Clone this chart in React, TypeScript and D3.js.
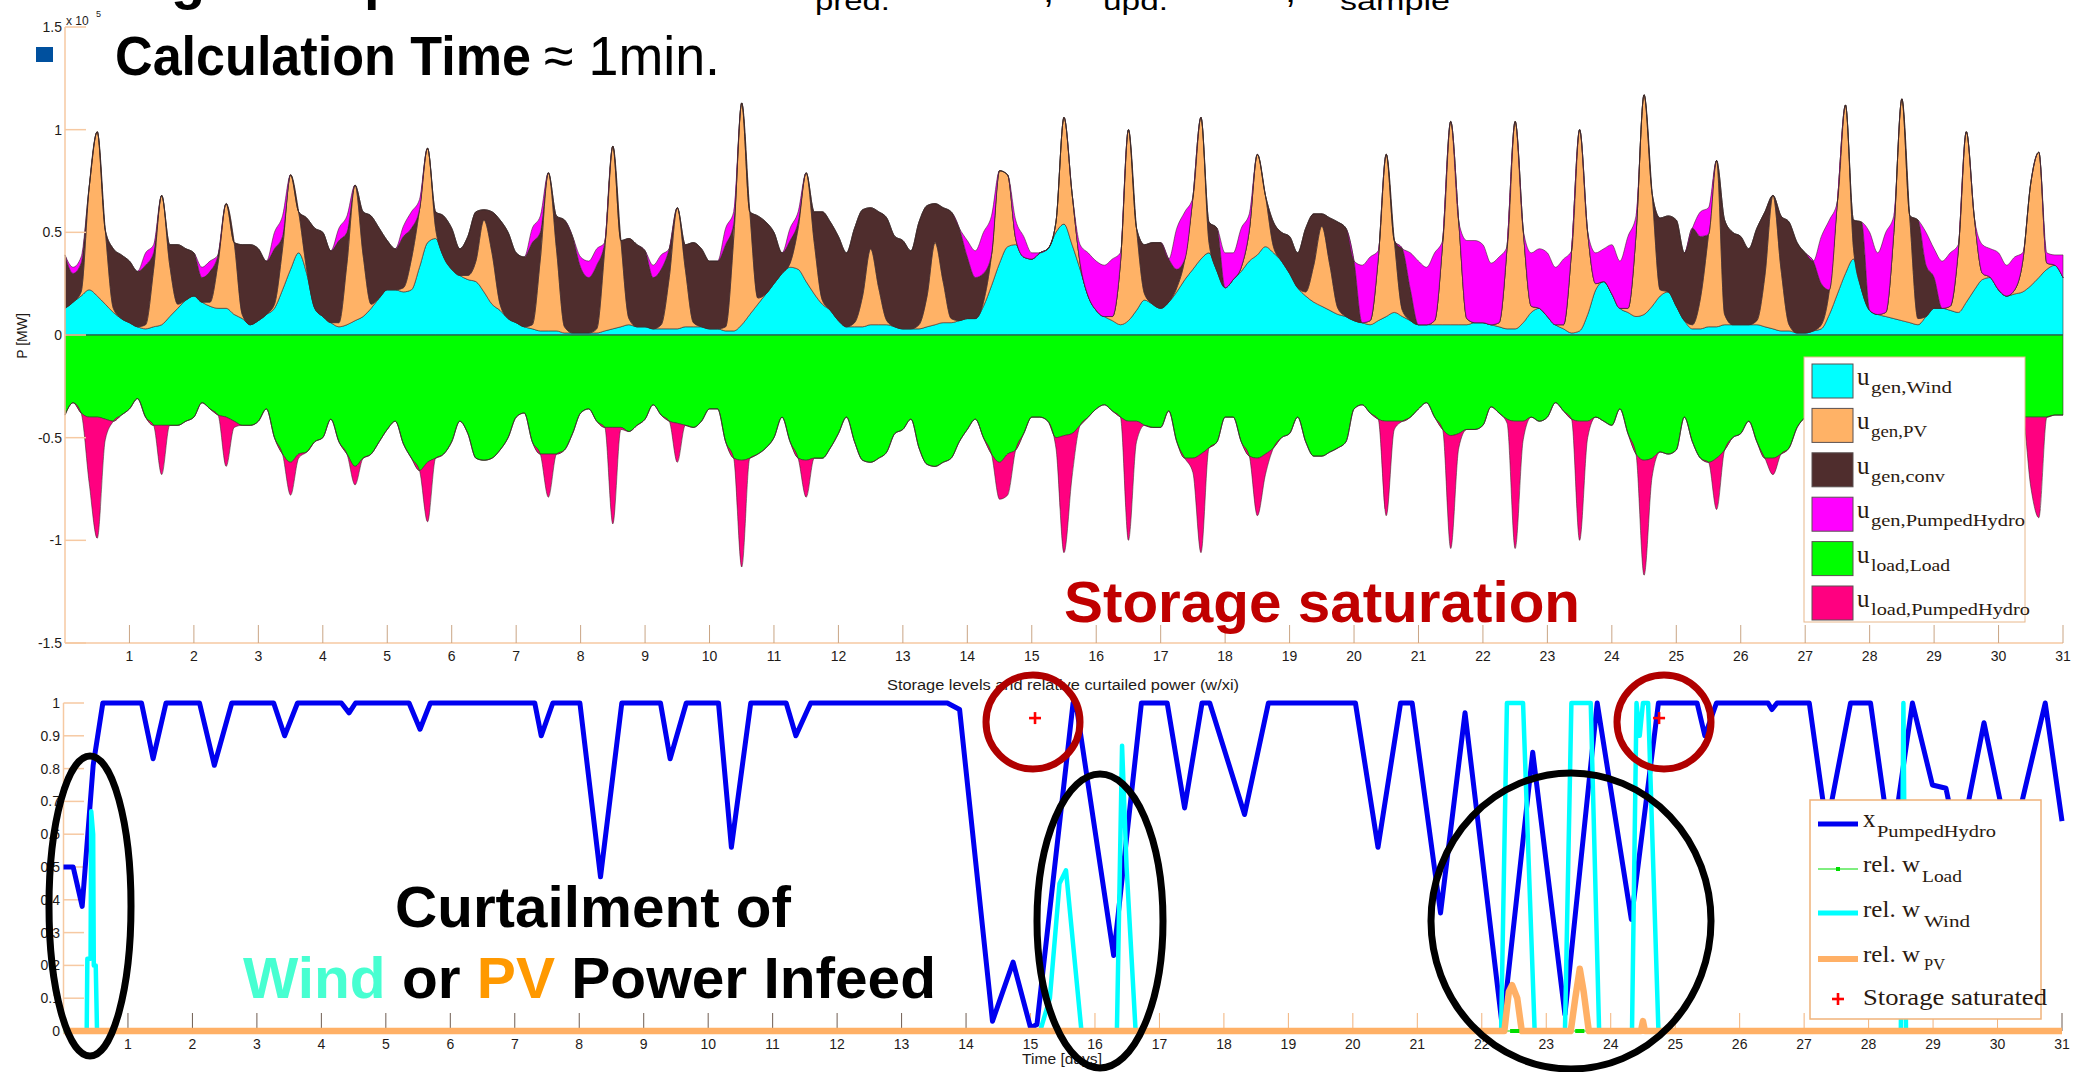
import React from 'react';
import * as d3 from 'd3';

// ---------- time base: 3-hour samples over 31 days ----------
const STEPS_PER_DAY = 8;
const DAY_TICKS = d3.range(1, 32);
const P_TICKS = [-1.5, -1, -0.5, 0, 0.5, 1, 1.5];
const X_TICKS = [0, 0.1, 0.2, 0.3, 0.4, 0.5, 0.6, 0.7, 0.8, 0.9, 1];

// ---------- power balance (x 1e5 MW), one row per day: 0h 3h 6h 9h 12h 15h 18h 21h ----------
const WIND = [
  .13,.16,.19,.22,.19,.15,.11,.08, .06,.04,.03,.04,.05,.09,.13,.17, .19,.16,.14,.13,.13,.10,.08,.05,
  .07,.10,.13,.22,.32,.40,.30,.13, .09,.06,.04,.05,.07,.09,.13,.18, .22,.22,.21,.22,.33,.45,.47,.38,
  .32,.29,.27,.26,.21,.15,.12,.08, .06,.04,.03,.02,.02,.02,.01,.01, .01,.01,.01,.02,.03,.04,.05,.04,
  .04,.03,.03,.03,.03,.04,.04,.04, .03,.03,.02,.02,.05,.10,.15,.20, .25,.30,.33,.32,.26,.20,.15,.12,
  .07,.04,.04,.04,.05,.05,.05,.04, .03,.03,.03,.04,.05,.06,.06,.07, .08,.08,.14,.24,.35,.43,.44,.38,
  .37,.40,.42,.50,.54,.44,.32,.19, .12,.09,.07,.05,.07,.12,.17,.15, .13,.16,.21,.27,.32,.37,.40,.31,
  .23,.27,.31,.36,.39,.43,.40,.36, .30,.23,.19,.16,.14,.12,.10,.09, .07,.06,.05,.07,.09,.11,.09,.07,
  .05,.05,.05,.05,.05,.05,.05,.06, .06,.05,.04,.03,.03,.06,.11,.13, .09,.05,.03,.01,.02,.10,.22,.26,
  .20,.13,.11,.09,.10,.14,.19,.21, .14,.07,.03,.03,.04,.04,.05,.05, .05,.05,.05,.04,.03,.02,.02,.01,
  .01,.02,.03,.10,.20,.30,.37,.22, .12,.10,.09,.08,.07,.06,.05,.09, .13,.13,.12,.11,.16,.22,.27,.28,
  .22,.19,.20,.21,.24,.28,.32,.34, .28,
];
const PV = [
  0,0,.02,.50,.80,.36,.02,0, 0,0,.02,.28,.63,.25,.02,0, 0,0,.02,.22,.51,.35,.02,0,
  0,0,.02,.20,.46,.20,.02,0, 0,0,.02,.30,.66,.30,.02,0, 0,0,.02,.15,.28,.46,.05,0,
  0,0,.02,.10,.35,.25,.03,0, 0,0,.02,.35,.77,.40,.03,0, 0,0,.02,.40,.89,.42,.03,0,
  0,0,.02,.25,.59,.28,.02,0, 0,0,.02,.45,1.08,.50,.03,0, 0,0,.02,.20,.53,.25,.02,0,
  0,0,.02,.15,.37,.18,.02,0, 0,0,.02,.15,.40,.20,.02,0, 0,0,.02,.15,.45,.35,.03,0,
  0,0,0,.05,.52,.25,.03,0, 0,0,.02,.30,.93,.40,.03,0, 0,0,.02,.10,.35,.69,.05,0,
  0,0,.02,.15,.49,.25,.03,0, 0,0,.02,.18,.39,.22,.03,0, 0,0,.02,.30,.79,.35,.03,0,
  0,0,.02,.40,.99,.50,.03,0, 0,0,.02,.40,1.01,.45,.03,0, 0,0,.02,.40,.98,.40,.03,0,
  0,0,.02,.40,1.07,.55,.03,0, 0,0,.02,.15,.45,.81,.05,0, 0,0,.02,.25,.65,.30,.03,0,
  0,0,.02,.12,.45,.82,.05,0, 0,0,.02,.42,1.08,.50,.03,0, 0,0,.02,.30,.83,.35,.03,0,
  0,0,.02,.15,.50,.61,.03,0, 0,
];
const CONV = [
  .26,.14,.14,0,0,0,.29,.31, .30,.27,.29,.08,0,.10,.29,.25, .21,.12,.15,.04,0,0,.34,.39,
  .35,.26,.27,.06,0,0,.25,.39, .41,.35,.40,.15,0,.21,.43,.34, .24,.20,.25,.15,0,0,.08,.20,
  .20,.13,.19,.24,.05,.20,.41,.42, .34,.34,.40,.13,0,.16,.52,.47, .32,.27,.31,.03,0,0,.39,.40,
  .37,.25,.27,.14,0,.12,.39,.38, .33,.33,.40,.07,0,0,.40,.35, .25,.10,.11,.03,0,.15,.43,.43,
  .41,.36,.46,.42,.20,.37,.50,.44, .43,.38,.50,.44,.19,.36,.52,.45, .30,.20,.14,0,0,0,0,0,
  0,0,0,0,0,0,0,0, 0,0,0,0,0,0,.24,.30, .32,.21,.09,0,0,0,.10,.21,
  0,0,0,0,0,0,.12,.14, .18,.17,.31,.25,.06,.23,.42,.43, .29,0,0,0,0,0,.30,.15,
  0,0,0,0,0,0,0,0, 0,0,0,0,0,0,0,0, 0,0,0,0,0,0,0,0,
  0,0,0,0,0,0,.35,.37, .42,.33,.47,.30,0,0,.46,.45, .43,.37,.45,.31,0,.26,.50,.44,
  .39,.34,.20,0,0,0,.14,.33, 0,0,0,0,0,.02,.48,.25, .15,0,0,0,0,0,0,0,
  0,0,0,0,0,0,0,0, 0,
];
const HYDRO_GEN = [
  0,.03,.03,0,0,0,0,0, 0,0,.06,.04,0,0,0,0, 0,.05,.05,0,0,0,0,0,
  0,0,.08,.10,0,0,0,0, 0,0,.06,.08,0,0,0,0, 0,0,.05,.08,.05,0,0,0,
  0,0,0,0,0,0,0,0, 0,0,.07,.08,0,0,0,0, .05,.08,.08,0,0,0,0,0,
  0,.06,.07,0,0,0,0,0, 0,0,.08,.06,0,0,0,0, 0,0,.06,.05,0,0,0,0,
  0,0,0,0,0,0,0,0, 0,0,0,0,0,0,0,0, .08,.13,.20,.19,0,0,.09,.10,
  .03,0,0,0,0,0,.09,.21, .24,.25,.28,.05,0,0,0,0, 0,0,.20,.23,0,0,0,0,
  .17,.13,.19,.08,0,0,0,0, 0,0,0,0,0,0,0,0, 0,.28,.31,.04,0,0,0,.18,
  .31,.28,.33,.01,0,0,.38,.40, .38,.30,.32,0,0,0,.26,.29, .31,.28,.32,0,0,0,.15,.16,
  .24,.23,.35,.09,0,0,0,0, 0,0,0,.12,.13,0,0,0, 0,0,0,0,0,0,0,0,
  0,0,.23,.34,0,0,0,0, .38,.30,.39,.08,0,0,0,.16, .14,.23,.26,.03,0,0,.14,.14,
  .18,.15,.16,.04,0,0,.05,.05, .11,
];
const LOAD = [
  .39,.33,.38,.40,.40,.41,.42,.39, .36,.31,.40,.44,.44,.44,.44,.42, .40,.33,.36,.39,.40,.42,.44,.44,
  .42,.36,.50,.58,.62,.58,.57,.52, .50,.41,.52,.58,.64,.60,.58,.52, .46,.42,.53,.60,.66,.62,.60,.58,
  .52,.42,.48,.60,.61,.60,.56,.50, .40,.38,.52,.58,.58,.58,.56,.48, .38,.36,.42,.45,.45,.45,.47,.44,
  .41,.34,.39,.42,.43,.44,.45,.42, .36,.36,.52,.60,.61,.60,.58,.55, .50,.40,.52,.60,.61,.60,.60,.55,
  .48,.40,.52,.61,.62,.60,.57,.48, .46,.41,.55,.63,.64,.62,.60,.52, .46,.41,.50,.58,.62,.58,.56,.48,
  .40,.40,.42,.50,.49,.48,.44,.40, .36,.34,.37,.40,.42,.42,.44,.45, .45,.37,.52,.60,.60,.58,.55,.52,
  .40,.40,.52,.59,.60,.58,.55,.50, .48,.40,.52,.59,.59,.57,.55,.52, .36,.34,.38,.41,.42,.42,.42,.40,
  .36,.33,.40,.46,.49,.48,.46,.46, .44,.35,.38,.41,.42,.42,.40,.42, .40,.33,.37,.41,.42,.42,.40,.42,
  .44,.36,.48,.58,.61,.60,.57,.58, .56,.40,.52,.60,.62,.60,.56,.50, .48,.42,.52,.60,.60,.58,.55,.45,
  .40,.36,.48,.56,.60,.58,.56,.55, .50,.40,.50,.58,.60,.58,.56,.50, .42,.36,.40,.44,.45,.44,.44,.42,
  .40,.34,.38,.40,.40,.40,.40,.39, .39,
];
const HYDRO_LOAD = [
  0,0,0,.32,.59,.10,0,0, 0,0,0,0,.24,0,0,0, 0,0,0,0,.24,.03,0,0,
  0,0,0,0,.16,.02,0,0, 0,0,0,0,.09,0,0,0, 0,0,0,0,0,.29,0,0,
  0,0,0,0,0,0,0,0, 0,0,0,0,.21,0,0,0, 0,0,0,0,.47,.01,0,0,
  0,0,0,0,.19,0,0,0, 0,0,0,0,.52,0,0,0, 0,0,0,0,.18,0,0,0,
  0,0,0,0,0,0,0,0, 0,0,0,0,0,0,0,0, 0,0,0,0,.18,.20,0,0,
  0,0,0,.05,.57,.21,0,0, 0,0,0,0,.58,.10,0,0, 0,0,0,0,.07,.48,0,0,
  0,0,0,0,.28,.10,0,0, 0,0,0,0,0,0,0,0, 0,0,0,0,.46,.04,0,0,
  0,0,0,0,.55,.07,0,0, 0,0,0,.02,.62,.09,0,0, 0,0,0,0,.58,.08,0,0,
  0,0,0,0,.56,.09,0,0, 0,0,0,0,0,.25,0,0, 0,0,0,0,.08,0,0,0,
  0,0,0,0,.05,.54,0,0, 0,0,0,0,.55,0,0,0, 0,0,0,0,.54,.13,0,0,
  0,0,0,0,.34,.49,0,0, 0,
];

// ---------- storage level and relative curtailment ----------
const STORAGE_T = [0,0.15,0.29,0.46,0.61,1.21,1.39,1.59,2.11,2.34,2.61,3.26,3.43,3.63,4.31,4.43,4.53,5.36,5.53,5.69,7.31,7.41,7.59,8.01,8.33,8.66,9.26,9.41,9.66,10.16,10.36,10.66,11.21,11.36,11.59,13.71,13.9,14.41,14.73,15.0,15.1,15.66,15.72,16.29,16.72,17.12,17.39,17.66,17.78,18.32,18.69,20.04,20.39,20.74,20.92,21.36,21.74,22.32,22.79,23.29,23.79,24.32,24.74,25.34,25.46,25.64,26.44,26.5,26.58,27.08,27.35,27.72,28.03,28.35,28.68,28.99,29.2,29.4,29.79,30.2,30.74,31.0];
const STORAGE_X = [0.50,0.50,0.38,0.81,1.0,1.0,0.83,1.0,1.0,0.81,1.0,1.0,0.90,1.0,1.0,0.97,1.0,1.0,0.92,1.0,1.0,0.90,1.0,1.0,0.47,1.0,1.0,0.83,1.0,1.0,0.56,1.0,1.0,0.90,1.0,1.0,0.98,0.03,0.21,0.01,0.02,1.0,0.98,0.23,1.0,1.0,0.68,1.0,1.0,0.66,1.0,1.0,0.56,1.0,1.0,0.36,0.97,0.01,0.85,0.05,1.0,0.34,1.0,1.0,0.90,1.0,1.0,0.98,1.0,1.0,0.62,1.0,1.0,0.55,1.0,0.75,0.74,0.55,0.94,0.55,1.0,0.64];
const WIND_CURT_T = [0,0.36,0.37,0.42,0.43,0.46,0.47,0.50,0.52,15.15,15.3,15.45,15.55,15.79,16.34,16.42,16.49,16.63,22.30,22.39,22.64,22.82,23.29,23.39,23.69,23.82,24.33,24.40,24.45,24.50,24.58,24.74,28.50,28.54,28.58,31];
const WIND_CURT = [0,0,0.22,0.22,0.67,0.60,0.20,0.20,0,0,0.10,0.45,0.49,0,0,0.87,0.50,0,0,1.0,1.0,0,0,1.0,1.0,0,0,1.0,0.9,1.0,1.0,0,0,1.0,0,0];
const PV_CURT_T = [0,22.35,22.42,22.47,22.55,22.62,23.38,23.45,23.52,23.58,23.66,24.47,24.50,24.53,31];
const PV_CURT = [0,0,0.12,0.14,0.10,0,0,0.10,0.19,0.12,0,0,0.03,0,0];
const LOAD_CURT_T = [0, 31];
const LOAD_CURT = [0, 0];
const LOAD_CURT_MARK_T = [22.47, 22.51, 22.55, 23.48, 23.52, 23.56];
const SAT_T = [15.07, 24.75];
const SAT_X = [0.954, 0.954];

const TOP_LEGEND = [
  { sub: 'gen,Wind', color: '#00FFFF', w: 81 },
  { sub: 'gen,PV', color: '#FFB266', w: 56 },
  { sub: 'gen,conv', color: '#4F2D2D', w: 74 },
  { sub: 'gen,PumpedHydro', color: '#FF00FF', w: 154 },
  { sub: 'load,Load', color: '#00FF00', w: 79 },
  { sub: 'load,PumpedHydro', color: '#FF0080', w: 159 },
];

const SANS = '"Liberation Sans", Arial, Helvetica, sans-serif';
const SERIF = '"Liberation Serif", "DejaVu Serif", "Times New Roman", serif';
const AXIS = '#F6C9A2';
const TXT = '#1e1a18';
const LEG_TXT = '#2a1a10';

export default function App() {
  const W = 2085, H = 1072;
  const xTop = d3.scaleLinear().domain([0, 31]).range([65, 2063]);
  const yTop = d3.scaleLinear().domain([-1.5, 1.5]).range([643, 27]);
  const xBot = d3.scaleLinear().domain([0, 31]).range([63.5, 2062]);
  const yBot = d3.scaleLinear().domain([0, 1]).range([1031, 703]);

  const rows = WIND.map((w, i) => ({
    t: i / STEPS_PER_DAY,
    wind: w, pv: PV[i], conv: CONV[i], hgen: HYDRO_GEN[i],
    load: LOAD[i], hload: HYDRO_LOAD[i],
  }));
  const pos = d3.stack().keys(['wind', 'pv', 'conv', 'hgen'])(rows);
  const posColors = ['#00FFFF', '#FFB266', '#4F2D2D', '#FF00FF'];
  const curve = d3.curveMonotoneX;
  const areaGen = d3.area()
    .curve(curve)
    .x((d: any) => xTop(d.data.t))
    .y0((d: any) => yTop(d[0]))
    .y1((d: any) => yTop(d[1]));
  const loadArea = d3.area()
    .curve(curve)
    .x((d: any) => xTop(d.t))
    .y0(() => yTop(0))
    .y1((d: any) => yTop(-d.load));
  const hloadArea = d3.area()
    .curve(curve)
    .x((d: any) => xTop(d.t))
    .y0((d: any) => yTop(-d.load))
    .y1((d: any) => yTop(-(d.load + d.hload)));

  const line = d3.line()
    .x((d: any) => xBot(d[0]))
    .y((d: any) => yBot(d[1]));
  const storagePts = STORAGE_T.map((t, i) => [t, STORAGE_X[i]]);
  const windPts = WIND_CURT_T.map((t, i) => [t, WIND_CURT[i]]);
  const pvPts = PV_CURT_T.map((t, i) => [t, PV_CURT[i]]);
  const loadPts = LOAD_CURT_T.map((t, i) => [t, LOAD_CURT[i]]);

  const plus = (cx: number, cy: number, s: number, key: any) => (
    <g key={key} stroke="#FF0000" strokeWidth={2.6}>
      <line x1={cx - s} x2={cx + s} y1={cy} y2={cy} />
      <line x1={cx} x2={cx} y1={cy - s} y2={cy + s} />
    </g>
  );

  const edge = '#3a2525';

  return (
    <svg width={W} height={H} viewBox={`0 0 ${W} ${H}`}
      style={{ position: 'absolute', left: 0, top: 0, background: '#fff', overflow: 'hidden' }}
      fontFamily={SANS}>
      <rect x={0} y={0} width={W} height={H} fill="#fff" />

      {/* ---------- slide header (partly cut by the top edge, as in the reference) ---------- */}
      <text x={115} y={-2} fontSize={56} fontWeight="bold" fill="#000">Big example:</text>
      <text x={815} y={10} fontSize={26} fill="#000" textLength={75} lengthAdjust="spacingAndGlyphs">pred.</text>
      <text x={1043} y={2} fontSize={40} fill="#000">,</text>
      <text x={1103} y={10} fontSize={26} fill="#000" textLength={65} lengthAdjust="spacingAndGlyphs">upd.</text>
      <text x={1285} y={2} fontSize={40} fill="#000">,</text>
      <text x={1340} y={10} fontSize={26} fill="#000" textLength={110} lengthAdjust="spacingAndGlyphs">sample</text>

      {/* ---------- top plot ---------- */}
      <g>
        {pos.map((s: any, k: number) => (
          <path key={k} d={areaGen(s) as string} fill={posColors[k]} stroke={edge} strokeWidth={0.7} strokeOpacity={0.8} />
        ))}
        <path d={loadArea(rows as any) as string} fill="#00FF00" stroke={edge} strokeWidth={0.7} strokeOpacity={0.8} />
        <path d={hloadArea(rows as any) as string} fill="#FF0080" stroke={edge} strokeWidth={0.7} strokeOpacity={0.8} />
        <line x1={xTop(0)} x2={xTop(31)} y1={yTop(0)} y2={yTop(0)} stroke="#2f5f55" strokeWidth={1.2} />
      </g>
      {/* axes */}
      <line x1={65} x2={65} y1={yTop(1.5)} y2={yTop(-1.5)} stroke={AXIS} strokeWidth={1.5} />
      <line x1={65} x2={xTop(31)} y1={yTop(-1.5)} y2={yTop(-1.5)} stroke={AXIS} strokeWidth={1.5} />
      {P_TICKS.map((v) => (
        <g key={v}>
          <line x1={65} x2={86} y1={yTop(v)} y2={yTop(v)} stroke={AXIS} strokeWidth={1.5} />
          <text x={62} y={yTop(v) + 5} fontSize={14} textAnchor="end" fill={TXT}>{String(v)}</text>
        </g>
      ))}
      {DAY_TICKS.map((d) => (
        <g key={d}>
          <line x1={xTop(d)} x2={xTop(d)} y1={643} y2={625} stroke="#C9A585" strokeWidth={1} />
          <text x={xTop(d)} y={661} fontSize={14} textAnchor="middle" fill={TXT}>{d}</text>
        </g>
      ))}
      <text x={66} y={25} fontSize={12} fill={TXT}>x 10</text>
      <text x={96} y={17} fontSize={9} fill={TXT}>5</text>
      <text x={27} y={336} fontSize={14} textAnchor="middle" fill={TXT} transform="rotate(-90, 27, 336)">P [MW]</text>

      {/* top legend */}
      <rect x={1804} y={357} width={221} height={265} fill="#fff" stroke="#E8B88C" strokeWidth={1} />
      {TOP_LEGEND.map((e, i) => {
        const y = 364 + i * 44.4;
        return (
          <g key={e.sub}>
            <rect x={1812} y={y} width={41} height={34} fill={e.color} stroke="#5a5050" strokeWidth={1} />
            <text x={1857} y={y + 21} fontSize={25} fontFamily={SERIF} fill={LEG_TXT}>u</text>
            <text x={1871} y={y + 29} fontSize={17} fontFamily={SERIF} fill={LEG_TXT}
              textLength={e.w} lengthAdjust="spacingAndGlyphs">{e.sub}</text>
          </g>
        );
      })}

      {/* ---------- bottom plot ---------- */}
      <text x={1063} y={690} fontSize={14} textAnchor="middle" fill={TXT} textLength={352} lengthAdjust="spacingAndGlyphs">
        Storage levels and relative curtailed power (w/xi)
      </text>
      <line x1={63.5} x2={63.5} y1={yBot(1)} y2={yBot(0)} stroke={AXIS} strokeWidth={1.5} />
      {X_TICKS.map((v) => (
        <g key={v}>
          <line x1={63.5} x2={84} y1={yBot(v)} y2={yBot(v)} stroke={AXIS} strokeWidth={1.5} />
          <text x={60} y={yBot(v) + 5} fontSize={14} textAnchor="end" fill={TXT}>{String(v)}</text>
        </g>
      ))}
      {DAY_TICKS.map((d) => (
        <g key={d}>
          <line x1={xBot(d)} x2={xBot(d)} y1={1031} y2={1013}
            stroke={d >= 15 && d <= 30 ? '#F2B27A' : '#6f5d52'} strokeWidth={1} />
          <text x={xBot(d)} y={1049} fontSize={14} textAnchor="middle" fill={TXT}>{d}</text>
        </g>
      ))}
      <text x={1022} y={1064} fontSize={14} fill={TXT} textLength={80} lengthAdjust="spacingAndGlyphs">Time [days]</text>

      <path d={line(storagePts as any) as string} fill="none" stroke="#0000F0" strokeWidth={5} strokeLinejoin="round" />
      <path d={line(loadPts as any) as string} fill="none" stroke="#00DD00" strokeWidth={1} />
      <path d={line(windPts as any) as string} fill="none" stroke="#00FFFF" strokeWidth={4.5} strokeLinejoin="round" />
      <path d={line(pvPts as any) as string} fill="none" stroke="#FFB066" strokeWidth={6.5} strokeLinejoin="round" />
      {LOAD_CURT_MARK_T.map((t) => (
        <rect key={t} x={xBot(t) - 2} y={yBot(0) - 2} width={4} height={4} fill="#00DD00" />
      ))}

      {/* bottom legend */}
      <rect x={1810} y={800} width={231} height={219} fill="#fff" stroke="#F0B27A" strokeWidth={1.5} />
      <line x1={1818} x2={1858} y1={824} y2={824} stroke="#0000F0" strokeWidth={5} />
      <text x={1863} y={827} fontSize={25} fontFamily={SERIF} fill={LEG_TXT}>x</text>
      <text x={1877} y={837} fontSize={17} fontFamily={SERIF} fill={LEG_TXT} textLength={119} lengthAdjust="spacingAndGlyphs">PumpedHydro</text>

      <line x1={1818} x2={1858} y1={869} y2={869} stroke="#00DD00" strokeWidth={1} />
      <rect x={1836} y={867} width={4} height={4} fill="#00DD00" />
      <text x={1863} y={872} fontSize={23} fontFamily={SERIF} fill={LEG_TXT} textLength={57} lengthAdjust="spacingAndGlyphs">rel. w</text>
      <text x={1922} y={882} fontSize={17} fontFamily={SERIF} fill={LEG_TXT} textLength={40} lengthAdjust="spacingAndGlyphs">Load</text>

      <line x1={1818} x2={1858} y1={913} y2={913} stroke="#00FFFF" strokeWidth={5} />
      <text x={1863} y={917} fontSize={23} fontFamily={SERIF} fill={LEG_TXT} textLength={57} lengthAdjust="spacingAndGlyphs">rel. w</text>
      <text x={1924} y={927} fontSize={17} fontFamily={SERIF} fill={LEG_TXT} textLength={46} lengthAdjust="spacingAndGlyphs">Wind</text>

      <line x1={1818} x2={1858} y1={959} y2={959} stroke="#FFB066" strokeWidth={6} />
      <text x={1863} y={962} fontSize={23} fontFamily={SERIF} fill={LEG_TXT} textLength={57} lengthAdjust="spacingAndGlyphs">rel. w</text>
      <text x={1924} y={970} fontSize={17} fontFamily={SERIF} fill={LEG_TXT} textLength={21} lengthAdjust="spacingAndGlyphs">PV</text>

      {plus(1838, 999, 6, 'leg')}
      <text x={1863} y={1005} fontSize={23} fontFamily={SERIF} fill={LEG_TXT} textLength={184} lengthAdjust="spacingAndGlyphs">Storage saturated</text>

      {SAT_T.map((t, i) => plus(xBot(t), yBot(SAT_X[i]), 6, i))}

      {/* ---------- slide annotations ---------- */}
      <rect x={36} y={47} width={17} height={15} fill="#00509E" />
      <text x={115} y={75} fontSize={56} fontWeight="bold" fill="#000" textLength={416} lengthAdjust="spacingAndGlyphs">Calculation Time</text>
      <text x={544} y={75} fontSize={56} fill="#000" textLength={176} lengthAdjust="spacingAndGlyphs">≈ 1min.</text>

      <text x={1064} y={622} fontSize={57} fontWeight="bold" fill="#C00000" textLength={516} lengthAdjust="spacingAndGlyphs">Storage saturation</text>

      <text x={395} y={927} fontSize={58} fontWeight="bold" fill="#000" textLength={396} lengthAdjust="spacingAndGlyphs">Curtailment of</text>
      <text x={243} y={998} fontSize={58} fontWeight="bold" fill="#000" textLength={693} lengthAdjust="spacingAndGlyphs">
        <tspan fill="#47FFD1">Wind</tspan> or <tspan fill="#FF9900">PV</tspan> Power Infeed
      </text>

      <g fill="none" stroke="#000" strokeWidth={7}>
        <ellipse cx={90} cy={906} rx={41} ry={150} />
        <ellipse cx={1100} cy={921} rx={63} ry={147} />
        <ellipse cx={1571} cy={921} rx={140} ry={148} />
      </g>
      <g fill="none" stroke="#B00000" strokeWidth={7}>
        <circle cx={1033} cy={722} r={47} />
        <circle cx={1664} cy={722} r={47} />
      </g>
    </svg>
  );
}
